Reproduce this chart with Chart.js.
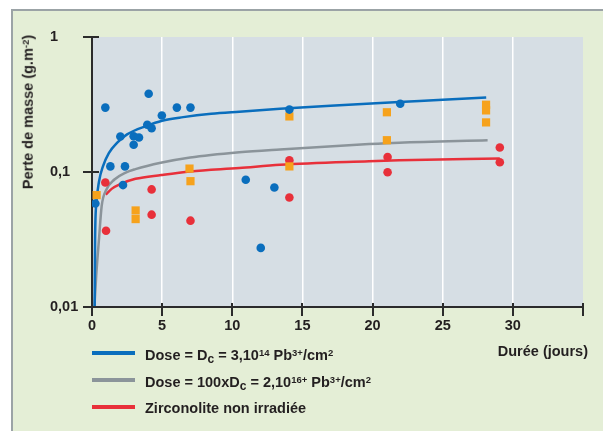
<!DOCTYPE html>
<html>
<head>
<meta charset="utf-8">
<script src="https://cdn.jsdelivr.net/npm/chart.js@4.4.1/dist/chart.umd.min.js"></script>
<style>
  body { margin: 0; background: #fff; width: 603px; height: 431px; overflow: hidden; position: relative;
         font-family: "Liberation Sans", Arial, sans-serif; font-weight: bold; color: #231f20; }
  #frame { position: absolute; left: 11px; top: 9px; width: 600px; height: 430px; background: #e4eed6;
           border-left: 2px solid #9ba3a6; border-top: 2px solid #9ba3a6; }
  #wrap { position: absolute; left: 0; top: 0; width: 603px; height: 431px; }
  .lbl { position: absolute; font-size: 14.5px; line-height: 1; white-space: nowrap; }
  .key { position: absolute; left: 92px; width: 43px; height: 4px; }
  sup { font-size: 9.5px; vertical-align: 4px; line-height: 0; }
  sub { font-size: 12px; vertical-align: -3px; line-height: 0; }
  #ytitle { left: 28px; top: 112px; transform: translate(-50%, -50%) rotate(-90deg); }
</style>
</head>
<body>
<div id="frame"></div>
<div id="wrap"><canvas id="c" width="603" height="431"></canvas></div>

<div class="lbl" id="ytitle">Perte de masse (g.m<sup>-2</sup>)</div>
<div class="lbl" style="right:15px; top:344px;">Durée (jours)</div>

<div class="key" style="top:351px; background:#0a6ebd;"></div>
<div class="lbl" style="left:145px; top:348px;">Dose = D<sub>c</sub> = 3,10<sup>14</sup> Pb<sup>3+</sup>/cm<sup>2</sup></div>
<div class="key" style="top:378px; background:#8b949a;"></div>
<div class="lbl" style="left:145px; top:375px;">Dose = 100xD<sub>c</sub> = 2,10<sup>16+</sup> Pb<sup>3+</sup>/cm<sup>2</sup></div>
<div class="key" style="top:405px; background:#e8303a;"></div>
<div class="lbl" style="left:145px; top:401px;">Zirconolite non irradiée</div>

<script>
// measured points, days / mass loss (g.m-2)
const dcDays   = [0.95, 4.04, 6.05, 7.02, 4.98, 3.94, 4.25, 2.02, 2.97, 3.35, 2.97, 1.31, 2.35, 2.21, 10.96, 13.0, 0.24, 12.03, 14.07, 21.97];
const dcLoss   = [0.30, 0.38, 0.30, 0.30, 0.262, 0.224, 0.211, 0.183, 0.184, 0.18, 0.159, 0.110, 0.110, 0.080, 0.0876, 0.0768, 0.0585, 0.0274, 0.29, 0.32];

const dc100Days = [0.33, 3.11, 3.11, 6.95, 7.02, 14.07, 14.07, 21.02, 21.02, 28.09, 28.09, 28.09];
const dc100Loss = [0.0674, 0.0519, 0.0448, 0.106, 0.0855, 0.258, 0.110, 0.277, 0.172, 0.315, 0.286, 0.233];

const rawDays  = [0.95, 1.0, 4.25, 4.25, 7.02, 14.07, 14.07, 21.07, 21.07, 29.07, 29.07];
const rawLoss  = [0.0836, 0.0367, 0.0743, 0.0483, 0.0436, 0.122, 0.0648, 0.129, 0.0996, 0.152, 0.118];

// fitted curves
const dcFitDays  = [0.19, 0.22, 0.31, 0.5, 0.78, 1.2, 1.8, 2.5, 3.9, 5, 6.5, 8.5, 10.5, 13.4, 17, 21.9, 25, 28.1];
const dcFitLoss  = [0.01, 0.032, 0.058, 0.085, 0.11, 0.138, 0.165, 0.19, 0.22, 0.24, 0.255, 0.27, 0.28, 0.294, 0.31, 0.33, 0.343, 0.357];
const dc100FitDays = [0.17, 0.3, 0.5, 0.69, 1.02, 1.6, 2.4, 3.1, 4.9, 7, 10.5, 13.4, 19.75, 21.9, 28.2];
const dc100FitLoss = [0.01, 0.017, 0.032, 0.056, 0.074, 0.088, 0.099, 0.105, 0.117, 0.128, 0.14, 0.147, 0.161, 0.165, 0.172];
const rawFitDays = [0.98, 1.4, 1.97, 3.1, 4.94, 7, 10.5, 13.4, 19.75, 21.9, 29.07];
const rawFitLoss = [0.068, 0.075, 0.081, 0.089, 0.095, 0.101, 0.107, 0.113, 0.12, 0.122, 0.126];

const yTickValues = [0.01, 0.1, 1];
const yTickLabels = ['0,01', '0,1', '1'];

const BLUE = '#0a6ebd', RED = '#e8303a', ORANGE = '#f6a21c', GREY = '#8b949a';
const AXIS = '#2b2b2b';

const pts = (xs, ys) => xs.map((x, i) => ({ x, y: ys[i] }));

function fit(xs, ys, color) {
  return { data: pts(xs, ys), showLine: true, borderColor: color, borderWidth: 2.5,
           pointRadius: 0, cubicInterpolationMode: 'monotone', order: 2 };
}
function marks(xs, ys, color, style, r) {
  return { data: pts(xs, ys), showLine: false, backgroundColor: color, borderWidth: 0,
           pointStyle: style, pointRadius: r, order: 1 };
}

const backdrop = {
  id: 'backdrop',
  beforeDraw(chart) {
    const { ctx, chartArea: a } = chart;
    ctx.save();
    ctx.fillStyle = '#d6dee4';
    ctx.fillRect(a.left, a.top, a.right - a.left, a.bottom - a.top);
    ctx.restore();
  },
  afterDraw(chart) {
    // tick marks crossing the axes
    const { ctx, chartArea: a, scales } = chart;
    ctx.save();
    ctx.strokeStyle = AXIS;
    ctx.lineWidth = 2;
    ctx.beginPath();
    scales.y.ticks.forEach(t => {
      const p = Math.round(scales.y.getPixelForValue(t.value));
      ctx.moveTo(a.left - 9, p); ctx.lineTo(a.left + 7, p);
    });
    scales.x.ticks.forEach(t => {
      const p = Math.round(scales.x.getPixelForValue(t.value));
      ctx.moveTo(p, a.bottom - 4); ctx.lineTo(p, a.bottom + 9);
    });
    ctx.stroke();
    ctx.restore();
  }
};

Chart.defaults.font.family = '"Liberation Sans", Arial, sans-serif';
Chart.defaults.font.weight = 'bold';
Chart.defaults.font.size = 14.5;
Chart.defaults.color = '#231f20';

new Chart(document.getElementById('c'), {
  type: 'scatter',
  data: {
    datasets: [
      marks(dcDays, dcLoss, BLUE, 'circle', 4.3),
      marks(dc100Days, dc100Loss, ORANGE, 'rect', 5.8),
      marks(rawDays, rawLoss, RED, 'circle', 4.3),
      fit(dcFitDays, dcFitLoss, BLUE),
      fit(dc100FitDays, dc100FitLoss, GREY),
      fit(rawFitDays, rawFitLoss, RED)
    ]
  },
  options: {
    responsive: false,
    animation: false,
    layout: { padding: { left: 50, top: 37, right: 20, bottom: 0 } },
    plugins: { legend: { display: false }, tooltip: { enabled: false } },
    scales: {
      x: {
        type: 'linear', min: 0, max: 35,
        afterFit: s => { s.height = 124; },
        ticks: { stepSize: 5, padding: 10, maxRotation: 0, autoSkip: false,
                 callback: v => (v === 35 ? '' : v) },
        grid: { drawTicks: false, lineWidth: 1.5,
                color: c => (c.tick && (c.tick.value === 0 || c.tick.value === 35) ? 'rgba(0,0,0,0)' : '#ffffff') },
        border: { color: AXIS, width: 2 }
      },
      y: {
        type: 'logarithmic', min: 0.01, max: 1,
        afterFit: s => { s.width = 42; },
        afterBuildTicks: s => { s.ticks = yTickValues.map(v => ({ value: v })); },
        ticks: { crossAlign: 'far', padding: 0,
                 callback: v => yTickLabels[yTickValues.indexOf(v)] },
        grid: { display: false, drawTicks: false },
        border: { color: AXIS, width: 2 }
      }
    }
  },
  plugins: [backdrop]
});
</script>
</body>
</html>
